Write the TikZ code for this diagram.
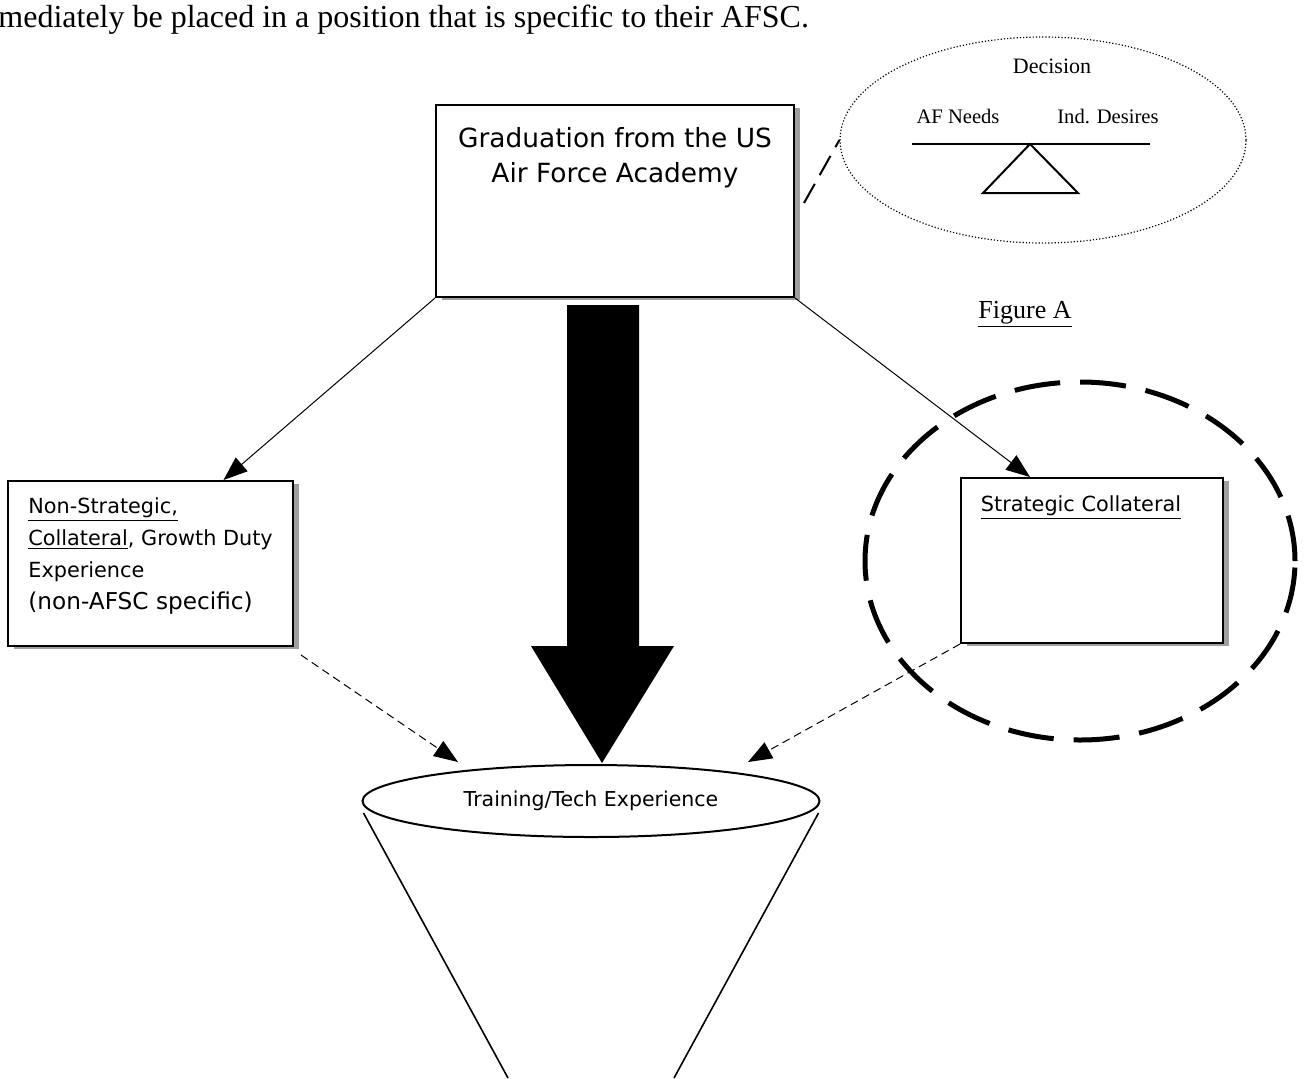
\documentclass[tikz,border=0pt]{standalone}
\usepackage{fontspec}
\setmainfont{Liberation Serif}
\newfontfamily\comic{DejaVu Sans}
\usetikzlibrary{arrows.meta,shapes.geometric,shadows,calc}

\begin{document}
\begin{tikzpicture}[x=0.5pt,y=-0.5pt,
  box/.style = {draw, line width=1pt, fill=white, inner sep=0pt,
    drop shadow={shadow xshift=3pt, shadow yshift=-1.5pt, fill=gray!75, opacity=1}},
  link/.style = {-{Triangle[length=12pt,width=9pt]}, line width=0.5pt},
  dlink/.style = {link, dash pattern=on 4pt off 2.5pt},
  txt/.style = {inner sep=0pt, font=\comic}]
\useasboundingbox (0,0) rectangle (1306,1078);

\node[inner sep=0pt, anchor=base west, font=\fontsize{16}{19}\selectfont] (intro) at (-2,27)
  {mediately be placed in a position that is specific to their AFSC.};

\node[box, minimum width=179pt, minimum height=96pt] (grad) at (615,201) {};
\node[txt, align=center, font=\comic\fontsize{13.2}{17.5}\selectfont] (gradtxt) at (615,158)
  {Graduation from the US\\Air Force Academy};

\node[draw, ellipse, line width=0.6pt, dash pattern=on 0.6pt off 1pt,
  minimum width=203pt, minimum height=103pt] (decision) at (1043,140) {};
\node[inner sep=0pt, anchor=base, font=\fontsize{11}{13}\selectfont] (dectxt) at (1052,73) {Decision};
\node[inner sep=0pt, anchor=base, font=\fontsize{10.3}{12}\selectfont] (afneeds) at (958,123) {AF Needs};
\node[inner sep=0pt, anchor=base, font=\fontsize{10.3}{12}\selectfont] (inddes) at (1108,123) {Ind. Desires};
\draw[line width=1pt] (912,144) -- (1150,144);
\draw[line width=1pt] (1030,144) -- (1078,193) -- (983,193) -- cycle;
\draw[line width=1pt, dash pattern=on 11pt off 5pt] ($(grad.east)+(9,2)$) -- (decision.west);

\node[inner sep=0pt, anchor=base, font=\fontsize{13}{15}\selectfont] (figa) at (1025,318) {\underline{Figure A}};

\node[box, minimum width=142.5pt, minimum height=82.5pt] (nonstrat) at (150.5,563.5) {};
\node[txt, anchor=north west, align=left, font=\comic\fontsize{10.4}{16}\selectfont] (nonstrattxt) at (28,497)
  {\underline{Non-Strategic,}\\\underline{Collateral}, Growth Duty\\Experience\\{\fontsize{11.6}{16}\selectfont (non-AFSC specific)}};

\node[draw, ellipse, line width=2.5pt, dash pattern=on 23pt off 10pt,
  minimum width=215pt, minimum height=179pt] (focus) at (1080,561) {};
\node[box, minimum width=131pt, minimum height=82.5pt] (strat) at (1092,560.5) {};
\node[txt, anchor=base, font=\comic\fontsize{10.4}{12}\selectfont] (strattxt) at (1081,511) {\underline{Strategic Collateral}};

\node[draw, ellipse, line width=1pt, inner sep=0pt, minimum width=228.5pt, minimum height=36pt,
  font=\comic\fontsize{10.25}{12}\selectfont] (train) at (591,801) {Training/Tech Experience};

\coordinate (bigtop) at ($(grad.south)+(-12,7)$);
\coordinate (bigtip) at ($(train.north)+(11,-1)$);
\fill ($(bigtop)+(-36,0)$) -- ($(bigtop)+(36,0)$) -- ($(bigtop)+(36,341)$) -- ($(bigtop)+(71,341)$)
  -- (bigtip) -- ($(bigtop)+(-72,341)$) -- ($(bigtop)+(-36,341)$) -- cycle;

\draw[link] (grad.south west) -- ($(nonstrat.north)+(73,0)$);
\draw[link] (grad.south east) -- ($(strat.north)+(-62,0)$);
\draw[dlink] ($(nonstrat.south east)+(7,8)$) -- ($(train.north)+(-133,-2)$);
\draw[dlink] (strat.south west) -- ($(train.north)+(157,-2)$);

\coordinate (funnelL) at (508,1078);
\coordinate (funnelR) at (674,1078);
\draw[line width=0.8pt] ($(train.west)+(2,12)$) -- (funnelL);
\draw[line width=0.8pt] ($(train.east)+(-2,12)$) -- (funnelR);
\end{tikzpicture}
\end{document}
